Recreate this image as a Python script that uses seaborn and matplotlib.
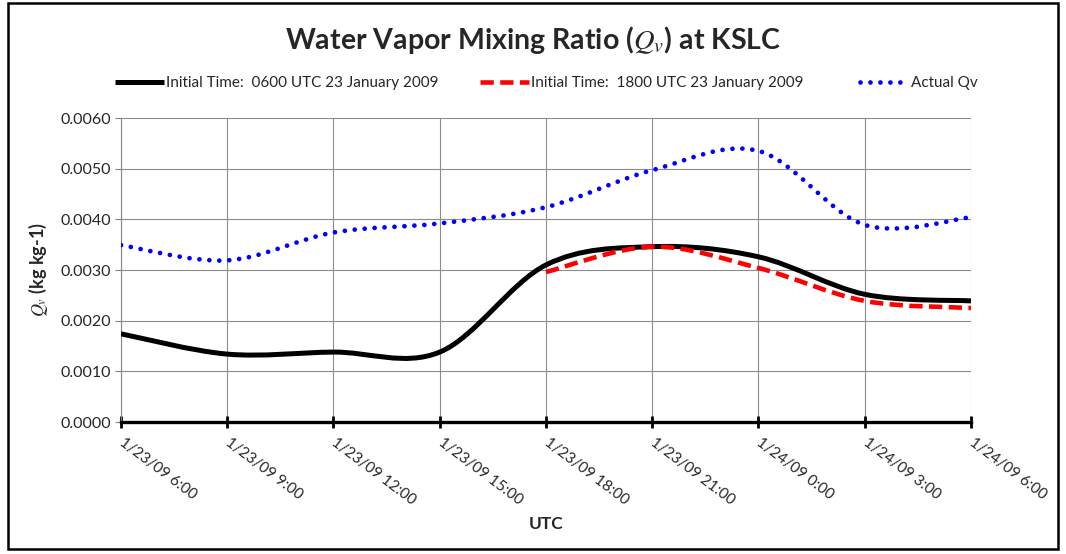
import matplotlib

matplotlib.use("Agg")
import matplotlib.pyplot as plt
import seaborn as sns
from matplotlib.lines import Line2D
from matplotlib.patches import PathPatch, Rectangle
from matplotlib.path import Path
from matplotlib.ticker import FormatStrFormatter

# hours after 00 UTC 23 Jan 2009
hours = [6, 9, 12, 15, 18, 21, 24, 27, 30]
tick_labels = [
    "1/23/09 6:00", "1/23/09 9:00", "1/23/09 12:00", "1/23/09 15:00",
    "1/23/09 18:00", "1/23/09 21:00", "1/24/09 0:00", "1/24/09 3:00",
    "1/24/09 6:00",
]
qv_init_0600 = [0.00174, 0.00134, 0.00138, 0.00138, 0.00310, 0.00346, 0.00326, 0.00252, 0.00239]
hours_init_1800 = [18, 21, 24, 27, 30]
qv_init_1800 = [0.00296, 0.00346, 0.00304, 0.00239, 0.00225]
qv_actual = [0.00349, 0.00319, 0.00374, 0.00392, 0.00424, 0.00497, 0.00535, 0.00389, 0.00404]

labels = [
    "Initial Time:  0600 UTC 23 January 2009",
    "Initial Time:  1800 UTC 23 January 2009",
    "Actual Qv",
]


def smooth_path(xy):
    """Bezier path through the points, the way Excel draws a smoothed line."""
    pts = [tuple(p) for p in xy]
    n = len(pts)
    verts, codes = [pts[0]], [Path.MOVETO]
    for i in range(n - 1):
        p0, p1 = pts[max(i - 1, 0)], pts[i]
        p2, p3 = pts[i + 1], pts[min(i + 2, n - 1)]
        c1 = (p1[0] + (p2[0] - p0[0]) / 6, p1[1] + (p2[1] - p0[1]) / 6)
        c2 = (p2[0] - (p3[0] - p1[0]) / 6, p2[1] - (p3[1] - p1[1]) / 6)
        verts += [c1, c2, p2]
        codes += [Path.CURVE4] * 3
    return Path(verts, codes)


sns.set_theme(style="whitegrid")
plt.rcParams["font.family"] = ["Lato", "DejaVu Sans"]
plt.rcParams["mathtext.fontset"] = "stix"

fig = plt.figure(figsize=(10.66, 5.54), dpi=100)
ax = fig.add_axes([121 / 1066, 1 - 422 / 554, 850 / 1066, 304 / 554])

styles = [
    dict(color="black", lw=3.6, ls="-", capstyle="butt"),
    dict(color="#ff0000", lw=3.3, ls=(0, (2.9, 1.4)), capstyle="butt"),
    dict(color="#0000ff", lw=3.4, ls=(0, (0.01, 2.1)), capstyle="round"),
]
series = [(hours, qv_init_0600), (hours_init_1800, qv_init_1800), (hours, qv_actual)]

for (x, y), st in zip(series, styles):
    sns.lineplot(x=x, y=y, ax=ax, color=st["color"])
    line = ax.lines[-1]
    patch = PathPatch(
        smooth_path(line.get_xydata()),
        fill=False,
        edgecolor=st["color"],
        linewidth=st["lw"],
        linestyle=st["ls"],
        capstyle=st["capstyle"],
        joinstyle="round",
        zorder=3,
    )
    ax.add_patch(patch)
    line.set_visible(False)

ax.set_xlim(6, 30)
ax.set_ylim(0, 0.006)
ax.set_xticks(hours)
ax.set_xticklabels(tick_labels, rotation=-37, ha="left", va="center",
                   rotation_mode="anchor", fontsize=11)
ax.set_yticks([0, 0.001, 0.002, 0.003, 0.004, 0.005, 0.006])
ax.yaxis.set_major_formatter(FormatStrFormatter("%.4f"))
ax.tick_params(axis="y", labelsize=11.5, direction="out", length=4, width=0.8,
               color="#868686", left=True, pad=3)
ax.tick_params(axis="x", direction="inout", length=9, width=2, color="black",
               bottom=True, pad=9)
ax.grid(True, color="#8c8c8c", lw=0.8)
for side in ("top", "right"):
    ax.spines[side].set_visible(False)
ax.spines["left"].set_color("#868686")
ax.spines["left"].set_linewidth(0.8)
ax.spines["bottom"].set_color("black")
ax.spines["bottom"].set_linewidth(2.4)
ax.spines["bottom"].set_zorder(4)

ax.set_xlabel("UTC", fontsize=12.5, fontweight="bold", labelpad=6)
ax.set_ylabel(r"$Q_v$ (kg kg-1)", fontsize=13, fontweight="bold", labelpad=8)

fig.text(0.5, 1 - 40 / 554, r"Water Vapor Mixing Ratio ($Q_v$) at KSLC",
         ha="center", va="center", fontsize=20.5, fontweight="bold")

# one legend per entry so each sits where the reference has it
legend_left = [115, 480, 860]
for st, text, left in zip(styles, labels, legend_left):
    handle = Line2D([], [], color=st["color"], lw=st["lw"], ls=st["ls"],
                    dash_capstyle=st["capstyle"], solid_capstyle="butt")
    leg = fig.legend([handle], [text], loc="center left",
                     bbox_to_anchor=(left / 1066, 1 - 83 / 554),
                     frameon=False, fontsize=11, handlelength=3.2,
                     handletextpad=0.15, borderpad=0, borderaxespad=0)

fig.patches.append(Rectangle((8 / 1066, 5 / 554), 1050 / 1066, 546 / 554,
                             transform=fig.transFigure, fill=False,
                             edgecolor="black", linewidth=1.8))

fig.savefig("out.png", dpi=100)
plt.close(fig)
